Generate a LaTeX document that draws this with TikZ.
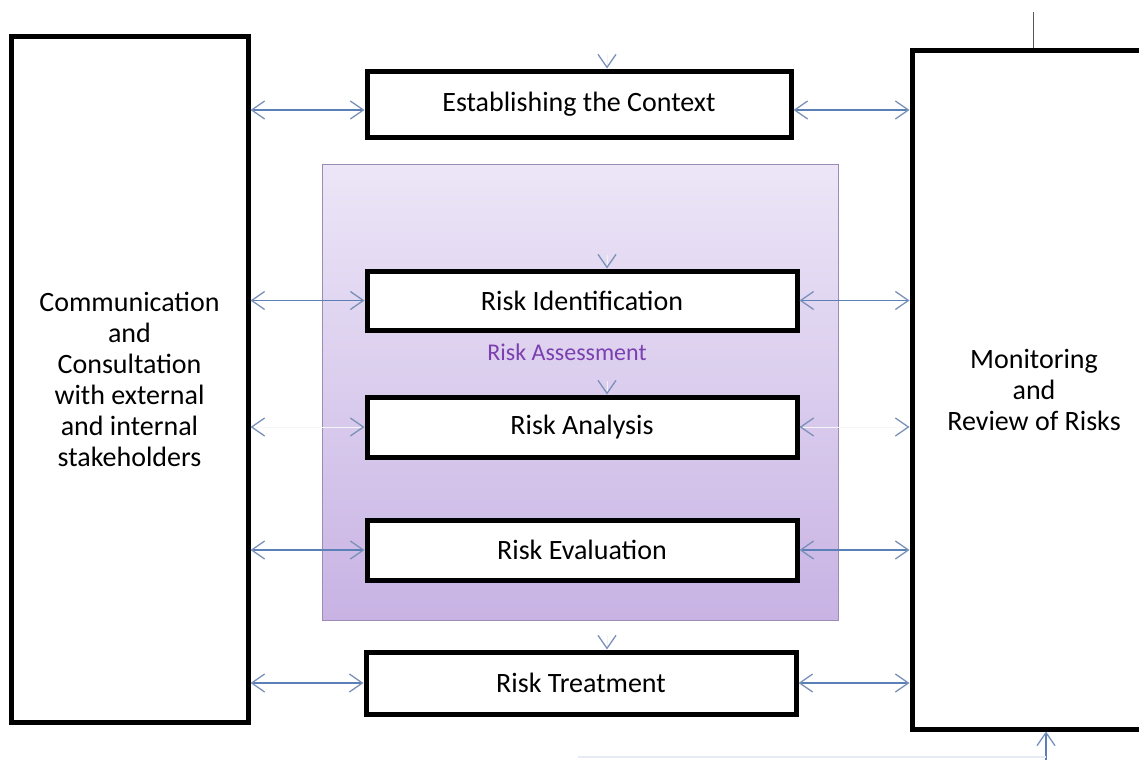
\documentclass[tikz,border=0pt]{standalone}
\usepackage{fontspec}
\setmainfont{Carlito}
\usetikzlibrary{arrows.meta,calc}
\definecolor{tipc}{HTML}{7A90B8}
\definecolor{shaftc}{HTML}{5B80B8}
\definecolor{asstop}{HTML}{ECE6F7}
\definecolor{assbot}{HTML}{C8B3E4}
\definecolor{assline}{HTML}{9A8CB5}
\definecolor{purp}{HTML}{7B3FB0}
\tikzset{mybarb/.tip={Straight Barb[length=13pt,width=18pt,color=tipc,line width=1.3pt]}}
\begin{document}
\begin{tikzpicture}[x=1pt,y=-1pt,
  box/.style={draw=black, line width=5pt, fill=white, inner sep=0pt,
    font=\fontsize{28}{31}\selectfont, align=center},
  link/.style={draw=shaftc, line width=1.2pt, {mybarb}-{mybarb}},
  ghost/.style={draw=tipc!8, line width=1pt, {mybarb}-{mybarb}},
  vtip/.style={draw=tipc!12, line width=1pt, -{mybarb}},
  uparrow/.style={draw=shaftc, line width=1.2pt, -{mybarb}}
]
\useasboundingbox (0,0) rectangle (1139,760);

% Risk Assessment background
\node[draw=assline, line width=1pt, top color=asstop, bottom color=assbot,
  minimum width=516pt, minimum height=456pt, inner sep=0pt] (assess) at (580,392) {};
\node[text=purp, font=\fontsize{24}{28}\selectfont] (asslabel) at (567,352) {Risk Assessment};

% side boxes
\node[box, minimum width=237pt, minimum height=685pt] (comm) at (129.5,379.5)
  {Communication\\and\\Consultation\\with external\\and internal\\stakeholders};
\node[box, minimum width=244pt, minimum height=678pt] (mon) at (1034,390)
  {Monitoring\\and\\Review of Risks};

% process boxes
\node[box, minimum width=424pt, minimum height=66pt] (est) at (579,104) {Establishing the Context};
\node[box, minimum width=430pt, minimum height=59pt] (rid) at (582,300.5) {Risk Identification};
\node[box, minimum width=430pt, minimum height=60pt] (ran) at (582,427) {Risk Analysis};
\node[box, minimum width=430pt, minimum height=60pt] (rev) at (582,550) {Risk Evaluation};
\node[box, minimum width=430pt, minimum height=62pt] (rtr) at (581,683) {Risk Treatment};

% horizontal connectors
\draw[link] ([yshift=-6pt]comm.east |- est.west) -- ([yshift=-6pt]est.west);
\draw[link] ([yshift=-6pt]est.east) -- ([yshift=-6pt]mon.west |- est.east);
\draw[link] (comm.east |- rid.west) -- (rid.west);
\draw[link] (rid.east) -- (mon.west |- rid.east);
\draw[ghost] (comm.east |- ran.west) -- (ran.west);
\draw[ghost] (ran.east) -- (mon.west |- ran.east);
\draw[link] (comm.east |- rev.west) -- (rev.west);
\draw[link] (rev.east) -- (mon.west |- rev.east);
\draw[link] (comm.east |- rtr.west) -- (rtr.west);
\draw[link] (rtr.east) -- (mon.west |- rtr.east);

% vertical tips
\coordinate (v1) at (607,54);
\coordinate (v2) at (607,255);
\coordinate (v3) at (607,381);
\coordinate (v5) at (607,636);
\draw[vtip] (v1) -- (est.north -| v1);
\draw[vtip] (v2) -- (rid.north -| v2);
\draw[vtip] (v3) -- (ran.north -| v3);
\draw[vtip] (v5) -- (rtr.north -| v5);

% top right line
\coordinate (tr) at (1033,12);
\draw[black!65, line width=1pt] (tr) -- (tr |- mon.north);

% bottom right arrow and faint return line
\coordinate (br) at (1046,760);
\draw[uparrow] (br) -- (br |- mon.south);
\coordinate (bl) at (578,757);
\draw[shaftc!15, line width=1.2pt] (bl) -- (bl -| br);
\end{tikzpicture}
\end{document}
